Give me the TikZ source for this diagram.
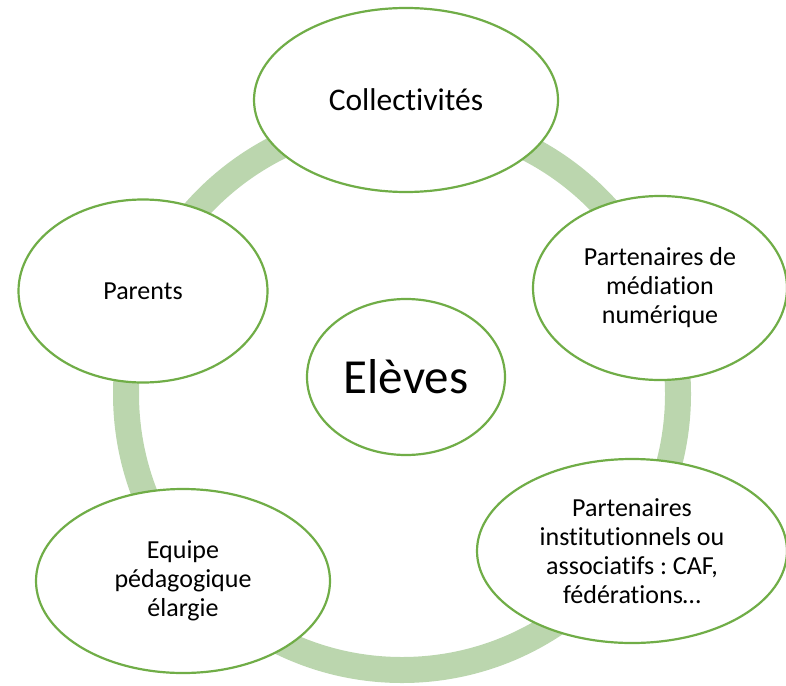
\documentclass[tikz,border=0pt]{standalone}
\usepackage{fontspec}
\setmainfont{Carlito}[Ligatures=NoCommon]
\usetikzlibrary{shapes.geometric}
\definecolor{anneau}{RGB}{187,214,174}
\definecolor{bordvert}{RGB}{112,173,71}
\frenchspacing
\begin{document}
\begin{tikzpicture}[x=1pt,y=-1pt,line join=round,line cap=round,
	bulle/.style={ellipse,draw=bordvert,fill=white,line width=2.2pt,inner sep=0pt,align=center,font=\fontsize{26}{29}\selectfont}]
	\useasboundingbox (0,0) rectangle (786,685);
	\draw[anneau,line width=26pt] (402,394) circle (276pt); %%% anneau
	\node[bulle,minimum width=304pt,minimum height=184pt,font=\fontsize{31.5}{35}\selectfont] (collectivites) at (406,100) {Collectivités};
	\node[bulle,minimum width=254pt,minimum height=184pt] (mediation) at (660,288) {Partenaires de\\médiation\\numérique};
	\node[bulle,minimum width=310pt,minimum height=184pt] (institutions) at (632,551) {Partenaires\\institutionnels ou\\associatifs : CAF,\\fédérations…};
	\node[bulle,minimum width=294pt,minimum height=184pt] (equipe) at (183,581) {Equipe\\pédagogique\\élargie};
	\node[bulle,minimum width=249pt,minimum height=183pt] (parents) at (143,291) {Parents};
	\node[bulle,minimum width=198pt,minimum height=156pt,font=\fontsize{49}{55}\selectfont] (eleves) at (406,377) {Elèves};
\end{tikzpicture}
\end{document}
